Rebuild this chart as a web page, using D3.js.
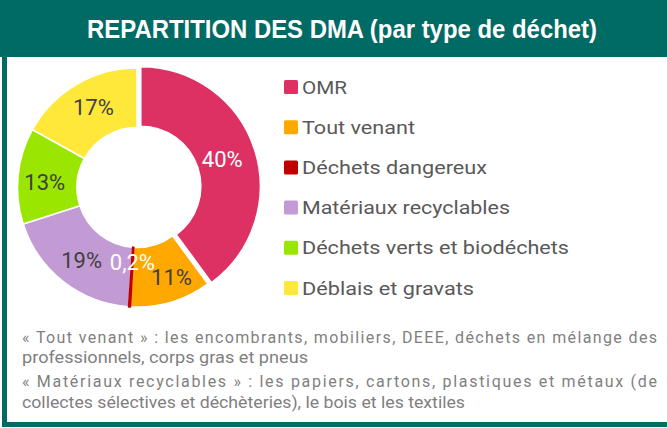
<!DOCTYPE html>
<html><head><meta charset="utf-8">
<script src="https://cdn.jsdelivr.net/npm/d3@7"></script>
<style>
html,body{margin:0;padding:0;background:#fff;}
svg{display:block;}
</style></head>
<body>
<svg id="chart" width="667" height="428"></svg>
<script>
// ---- data ----
const categories = ["OMR","Tout venant","Déchets dangereux","Matériaux recyclables","Déchets verts et biodéchets","Déblais et gravats"];
const values = [40, 11, 0.2, 19, 13, 17];
const valueLabels = ["40%","11%","0,2%","19%","13%","17%"];
const colors = ["#DE3163","#FFA800","#C00000","#C39BD4","#9AE600","#FFE83A"];
const labelColors = ["#ffffff","#404040","#ffffff","#404040","#404040","#404040"];
const title = "REPARTITION DES DMA (par type de déchet)";
const notes = [
  "« Tout venant » : les encombrants, mobiliers, DEEE, déchets en mélange des",
  "professionnels, corps gras et pneus",
  "« Matériaux recyclables » : les papiers, cartons, plastiques et métaux (de",
  "collectes sélectives et déchèteries), le bois et les textiles"
];

// ---- layout ----
const teal = "#006A64";
const svg = d3.select("#chart");
const W = 667, H = 428;

svg.append("rect").attr("x",0).attr("y",0).attr("width",W).attr("height",H).attr("fill","#fff");
// frame
svg.append("rect").attr("x",0).attr("y",0).attr("width",W).attr("height",57).attr("fill",teal);
svg.append("rect").attr("x",2).attr("y",0).attr("width",5).attr("height",427).attr("fill",teal);
svg.append("rect").attr("x",2).attr("y",422).attr("width",W).attr("height",5).attr("fill",teal);

svg.append("text").attr("x",342).attr("y",38).attr("text-anchor","middle")
  .attr("font-family","'Liberation Sans Narrow','Arial Narrow','Liberation Sans',Arial,sans-serif")
  .attr("font-weight","bold").attr("font-size",25).attr("fill","#fff")
  .attr("textLength",510).attr("lengthAdjust","spacingAndGlyphs")
  .text(title);

// donut
const cx = 137, cy = 187.5, R = 119.5, r0 = 60;
const pie = d3.pie().sort(null).value(d => d);
const arcs = pie(values);
const arc = d3.arc().innerRadius(r0).outerRadius(R);
const labelArc = d3.arc().innerRadius((r0+R)/2).outerRadius((r0+R)/2);
const explode = [4,0,0,0,0,0];
const labelNudge = [[0,0],[9,4],[1,-15],[0,2],[-3,3],[2,-3]];

const g = svg.append("g").attr("transform",`translate(${cx},${cy})`);
const order = [0,1,3,4,5,2]; // tiny slice drawn last so it stays visible
g.selectAll("path.slice").data(order.map(i=>({a:arcs[i],i}))).join("path")
  .attr("class","slice")
  .attr("d", d=>arc(d.a))
  .attr("fill",d=>colors[d.i])
  .attr("stroke",d=>d.i===2?colors[d.i]:"#fff")
  .attr("stroke-width",d=>d.i===2?2:1.5).attr("stroke-linejoin","round")
  .attr("transform",d=>{
    const a = (d.a.startAngle+d.a.endAngle)/2;
    return `translate(${explode[d.i]*Math.sin(a)},${-explode[d.i]*Math.cos(a)})`;
  });

g.selectAll("text.lbl").data(arcs).join("text")
  .attr("class","lbl")
  .attr("x",(d,i)=>labelArc.centroid(d)[0]+labelNudge[i][0])
  .attr("y",(d,i)=>labelArc.centroid(d)[1]+labelNudge[i][1])
  .attr("dy","0.36em")
  .attr("text-anchor","middle")
  .attr("font-family","Roboto,'Open Sans',sans-serif")
  .attr("font-weight",400)
  .attr("font-size",22)
  .attr("fill",(d,i)=>labelColors[i])
  .text((d,i)=>valueLabels[i]);

// legend
const legendWidths = [45,113,185,208,267,172];
const ly = d3.scalePoint().domain(categories).range([87,288]);
const lg = svg.append("g");
categories.forEach((c,i)=>{
  lg.append("rect").attr("x",284).attr("y",ly(c)-7).attr("width",14).attr("height",14)
    .attr("rx",1.5).attr("fill",colors[i]);
  lg.append("text").attr("x",302).attr("y",ly(c)).attr("dy","0.35em")
    .attr("font-family","Roboto,'Open Sans',sans-serif")
    .attr("font-size",19).attr("fill","#595959")
    .attr("textLength",legendWidths[i]).attr("lengthAdjust","spacingAndGlyphs")
    .text(c);
});

// notes
const noteY = [337,357,381,402];
const noteW = [635,286,635,443];
notes.forEach((t,i)=>{
  svg.append("text").attr("x",22).attr("y",noteY[i]).attr("dy","0.35em")
    .attr("font-family","Roboto,sans-serif")
    .attr("font-size",16).attr("fill","#7f7f7f")
    .attr("textLength",noteW[i]).attr("lengthAdjust",i%2===0?"spacing":"spacingAndGlyphs")
    .text(t);
});
</script>
</body></html>
